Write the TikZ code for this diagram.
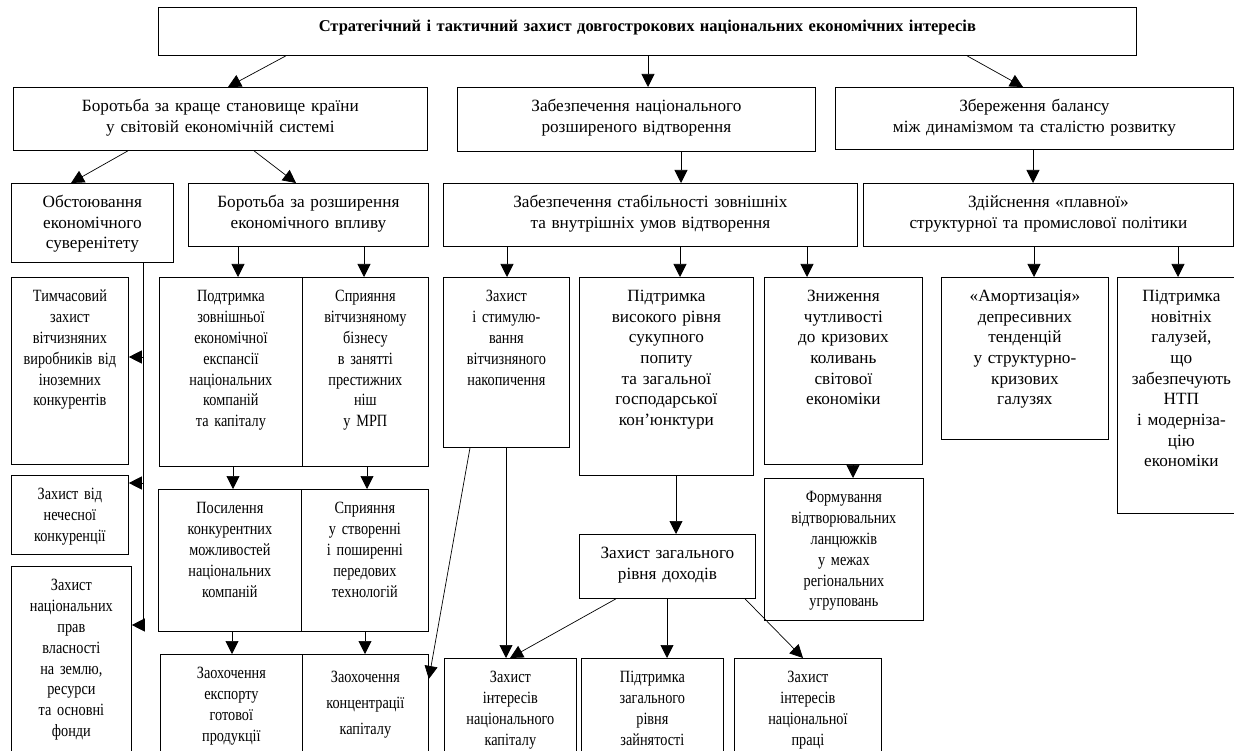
\documentclass[tikz,border=0pt]{standalone}
\usepackage{fontspec}
\setmainfont{Liberation Serif}
\newfontfamily\condfont{Liberation Serif}[FakeStretch=0.83]
\usetikzlibrary{arrows.meta,positioning}

\tikzset{
  bx/.style 2 args={draw, line width=0.8pt, anchor=north west, inner sep=2pt, align=center,
    text width={#1-4}, text height=22pt, text depth={#2-26}, font=\fontsize{17.2}{20.7}\selectfont},
  cbx/.style 2 args={bx={#1}{#2}, font=\condfont\fontsize{17.2}{20.9}\selectfont},
  arr/.style={-{Triangle[width=13pt,length=13pt]}, line width=0.7pt},
  ln/.style={line width=0.7pt}
}

\begin{document}
\begin{tikzpicture}[x=1pt, y=-1pt]
\useasboundingbox (0,0) rectangle (1234,751);

% Goal
\node[bx={978}{48}, font=\bfseries\fontsize{16.5}{18}\selectfont] (goal) at (158,7) {Стратегічний і тактичний захист довгострокових національних економічних інтересів};

% Second level
\node[bx={414}{63}] (fight) at (13,87) {Боротьба за краще становище країни\\у світовій економічній системі};
\node[bx={358}{64}] (repro) at (457,87) {Забезпечення національного\\розширеного відтворення};
\node[bx={398}{62}] (balance) at (835,87) {Збереження балансу\\між динамізмом та сталістю розвитку};

% Third level
\node[bx={162}{79}] (sover) at (11,183) {Обстоювання\\економічного\\суверенітету};
\node[bx={240}{63}] (influence) at (188,183) {Боротьба за розширення\\економічного впливу};
\node[bx={414}{63}] (stab) at (443,183) {Забезпечення стабільності зовнішніх\\та внутрішніх умов відтворення};
\node[bx={370}{63}] (smooth) at (863,183) {Здійснення «плавної»\\структурної та промислової політики};

% Fourth level
\node[cbx={117}{187}] (temp) at (11,277) {Тимчасовий\\захист\\вітчизняних\\виробників від\\іноземних\\конкурентів};
\node[cbx={143}{189}] (expan) at (159,277) {Подтримка\\зовнішньої\\економічної\\експансії\\національних\\компаній\\та капіталу};
\node[cbx={126}{189}] (niche) at (302,277) {Сприяння\\вітчизняному\\бізнесу\\в занятті\\престижних\\ніш\\у МРП};
\node[cbx={126}{170}] (accum) at (443,277) {Захист\\і стимулю-\\вання\\вітчизняного\\накопичення};
\node[bx={174}{198}] (demand) at (579,277) {Підтримка\\високого рівня\\сукупного\\попиту\\та загальної\\господарської\\кон'юнктури};
\node[bx={158}{187}] (sens) at (764,277) {Зниження\\чутливості\\до кризових\\коливань\\світової\\економіки};
\node[bx={167}{162}] (amort) at (941,277) {«Амортизація»\\депресивних\\тенденцій\\у структурно-\\кризових\\галузях};
\node[bx={128}{236}] (newind) at (1117,277) {Підтримка\\новітніх\\галузей,\\що\\забезпечують\\НТП\\і модерніза-\\цію\\економіки};

% Left column
\node[cbx={117}{79}] (unfair) at (11,475) {Захист від\\нечесної\\конкуренції};
\node[cbx={120}{194}] (land) at (11,566) {Захист\\національних\\прав\\власності\\на землю,\\ресурси\\та основні\\фонди};

% Lower levels
\node[cbx={143}{142}] (compet) at (158,489) {Посилення\\конкурентних\\можливостей\\національних\\компаній};
\node[cbx={127}{142}] (tech) at (301,489) {Сприяння\\у створенні\\і поширенні\\передових\\технологій};
\node[cbx={142}{106}] (export) at (160,654) {Заохочення\\експорту\\готової\\продукції};
\node[cbx={126}{106}, font=\condfont\fontsize{17.2}{26}\selectfont, text height=26pt] (concen) at (302,654) {Заохочення\\концентрації\\капіталу};
\node[bx={176}{64}] (income) at (579,534) {Захист загального\\рівня доходів};
\node[cbx={159}{142}] (chains) at (764,478) {Формування\\відтворювальних\\ланцюжків\\у межах\\регіональних\\угруповань};
\node[cbx={132}{102}] (capital) at (444,658) {Захист\\інтересів\\національного\\капіталу};
\node[cbx={142}{102}] (employ) at (581,658) {Підтримка\\загального\\рівня\\зайнятості};
\node[cbx={147}{102}] (labour) at (734,658) {Захист\\інтересів\\національної\\праці};

% Arrows from the goal
\draw[arr] ([xshift=128pt]goal.south west) -- ([xshift=215pt]fight.north west);
\draw[arr] ([xshift=490pt]goal.south west) -- ([xshift=191pt]repro.north west);
\draw[arr] ([xshift=809pt]goal.south west) -- ([xshift=188pt]balance.north west);

% Arrows below the second level
\draw[arr] ([xshift=115pt]fight.south west) -- ([xshift=60pt]sover.north west);
\draw[arr] ([xshift=241pt]fight.south west) -- ([xshift=108pt]influence.north west);
\draw[arr] ([xshift=224pt]repro.south west) -- ([xshift=238pt]stab.north west);
\draw[arr] ([xshift=198pt]balance.south west) -- ([xshift=170pt]smooth.north west);

% Sovereignty branch
\coordinate (trunk) at ([xshift=132pt]sover.south west);
\draw[ln] (trunk) -- (trunk |- 0,625);
\draw[arr] (trunk |- 0,357) -- (temp.east |- 0,357);
\draw[arr] (trunk |- 0,483) -- (unfair.east |- 0,483);
\draw[arr] (trunk |- 0,625) -- (land.east |- 0,625);

% Influence branch
\draw[arr] ([xshift=50pt]influence.south west) -- ([xshift=79pt]expan.north west);
\draw[arr] ([xshift=176pt]influence.south west) -- ([xshift=62pt]niche.north west);
\draw[arr] ([xshift=74pt]expan.south west) -- ([xshift=75pt]compet.north west);
\draw[arr] ([xshift=65pt]niche.south west) -- ([xshift=66pt]tech.north west);
\draw[arr] ([xshift=74pt]compet.south west) -- ([xshift=72pt]export.north west);
\draw[arr] ([xshift=64pt]tech.south west) -- ([xshift=63pt]concen.north west);

% Stability branch
\draw[arr] ([xshift=64pt]stab.south west) -- ([xshift=64pt]accum.north west);
\draw[arr] ([xshift=237pt]stab.south west) -- ([xshift=101pt]demand.north west);
\draw[arr] ([xshift=364pt]stab.south west) -- ([xshift=43pt]sens.north west);
\draw[arr] ([xshift=63pt]accum.south west) -- ([xshift=62pt]capital.north west);
\draw[arr] ([xshift=27pt]accum.south west) -- ([yshift=-25pt]concen.north east);
\draw[arr] ([xshift=97pt]demand.south west) -- ([xshift=97pt]income.north west);
\draw[arr] ([xshift=89pt]sens.south west) -- ([xshift=89pt]chains.north west);
\draw[arr] ([xshift=37pt]income.south west) -- ([xshift=66pt]capital.north west);
\draw[arr] ([xshift=88pt]income.south west) -- ([xshift=86pt]employ.north west);
\draw[arr] ([xshift=166pt]income.south west) -- ([xshift=69pt]labour.north west);

% Policy branch
\draw[arr] ([xshift=171pt]smooth.south west) -- ([xshift=93pt]amort.north west);
\draw[arr] ([xshift=315pt]smooth.south west) -- ([xshift=61pt]newind.north west);

\end{tikzpicture}
\end{document}
